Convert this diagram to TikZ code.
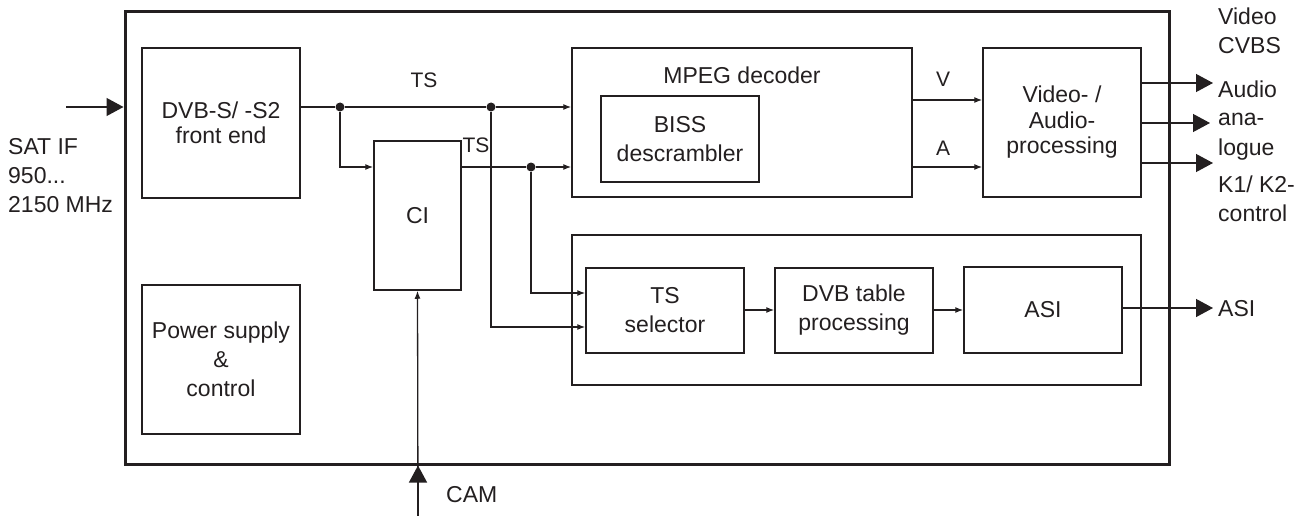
\documentclass[tikz,border=0pt]{standalone}
\usepackage{fontspec}
\setmainfont{Liberation Sans}
\usetikzlibrary{arrows.meta}
\definecolor{ink}{HTML}{231F20}
\begin{document}
\begin{tikzpicture}[x=1pt,y=-1pt,
  font=\fontsize{23}{29}\selectfont, text=ink,
  blk/.style={draw=ink,line width=1.5pt,inner sep=0pt,align=center},
  tight/.style={font=\fontsize{23}{25.5}\selectfont},
  conn/.style={draw=ink,line width=1.3pt,-{Latex[length=8pt,width=6pt]}},
  bigtip/.style={draw=ink,line width=1.3pt,-{Triangle[length=17pt,width=18pt]}},
  lbl/.style={font=\fontsize{21}{26}\selectfont,inner sep=0pt},
  txt/.style={inner sep=0pt,align=left},
  dot/.style={circle,fill=ink,inner sep=0pt,minimum size=9pt}]
\useasboundingbox (0,0) rectangle (1309,516);
% outer frame
\node[draw=ink,line width=3pt,inner sep=0pt,minimum width=1044pt,minimum height=452pt] (outer) at (647,238) {};
% blocks
\node[blk,tight,minimum width=158pt,minimum height=150pt] (fe) at (221,123) {DVB-S/ -S2\\front end};
\node[blk,minimum width=87pt,minimum height=149pt] (ci) at (417.5,215.5) {CI};
\node[blk,minimum width=340pt,minimum height=149pt] (mpeg) at (742,122.5) {};
\node[inner sep=0pt,anchor=base] (mpegl) at (742,84) {MPEG decoder};
\node[blk,minimum width=158pt,minimum height=86pt] (biss) at (680,139) {BISS\\descrambler};
\node[blk,tight,minimum width=158pt,minimum height=149pt] (vap) at (1062,122.5) {Video- /\\Audio-\\processing};
\node[blk,minimum width=569pt,minimum height=150pt] (grp) at (856.5,310) {};
\node[blk,minimum width=158pt,minimum height=85pt] (tss) at (665,310.5) {TS\\selector};
\node[blk,minimum width=158pt,minimum height=85pt] (dvbt) at (854,310.5) {DVB table\\processing};
\node[blk,minimum width=158pt,minimum height=86pt] (asi) at (1043,310) {ASI};
\node[blk,minimum width=158pt,minimum height=149pt] (pwr) at (221,359.5) {Power supply\\\&\\control};
% junction dots
\node[dot] (d1) at (340,107) {};
\node[dot] (d2) at (491,107) {};
\node[dot] (d3) at (531,167) {};
% external coordinates
\coordinate (inL) at (66,107);
\coordinate (cam) at (418,516);
\coordinate (o1) at (1213,83);
\coordinate (o2) at (1210,123);
\coordinate (o3) at (1213,163);
\coordinate (o4) at (1213,308);
% input
\draw[bigtip] (inL) -- (inL -| outer.west);
% TS paths
\draw[conn] (fe.east |- d1) -- (d1) -- (d2) -- (mpeg.west |- d2);
\draw[conn] (d1) |- (ci.west |- d3);
\draw[conn] (ci.east |- d3) -- (d3) -- (mpeg.west |- d3);
\draw[conn] (d2) |- (tss.west |- 0,327);
\draw[conn] (d3) |- (tss.west |- 0,293);
\draw[conn] (tss.east |- 0,310) -- (dvbt.west |- 0,310);
\draw[conn] (dvbt.east |- 0,310) -- (asi.west |- 0,310);
% V / A
\draw[conn] (mpeg.east |- 0,100) -- (vap.west |- 0,100);
\draw[conn] (mpeg.east |- 0,167) -- (vap.west |- 0,167);
% outputs
\draw[bigtip] (vap.east |- o1) -- (o1);
\draw[bigtip] (vap.east |- o2) -- (o2);
\draw[bigtip] (vap.east |- o3) -- (o3);
\draw[bigtip] (asi.east |- o4) -- (o4);
% CAM
\draw[conn] (cam) -- (ci.south);
\draw[bigtip] (cam) -- (cam |- outer.south);
% labels
\node[lbl,anchor=base] (lts1) at (424,88) {TS};
\node[lbl,anchor=base] (lts2) at (476,153) {TS};
\node[lbl,anchor=base] (lv) at (943,87) {V};
\node[lbl,anchor=base] (la) at (943,155) {A};
\node[txt,anchor=base west] (lsat) at (8,212) {SAT IF\\950...\\2150 MHz};
\node[txt,anchor=base west] (lvid) at (1218,54) {Video\\CVBS};
\node[txt,anchor=base west] (laud) at (1218,155) {Audio\\ana-\\logue};
\node[txt,anchor=base west] (lk) at (1218,221) {K1/ K2-\\control};
\node[txt,anchor=base west] (lasi) at (1218,316) {ASI};
\node[txt,anchor=base west] (lcam) at (446,502) {CAM};
\end{tikzpicture}
\end{document}
